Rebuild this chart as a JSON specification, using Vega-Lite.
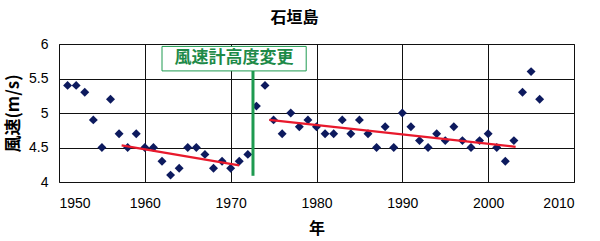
{
  "$schema": "https://vega.github.io/schema/vega-lite/v6.json",
  "autosize": "none",
  "width": 515,
  "height": 138,
  "padding": {"left": 59, "top": 44, "right": 26, "bottom": 59},
  "background": "white",
  "title": {
    "text": "石垣島",
    "font": "Noto Sans CJK JP",
    "fontSize": 16,
    "fontWeight": "bold",
    "color": "#000000",
    "anchor": "middle",
    "dx": -22,
    "offset": 3,
    "baseline": "middle"
  },
  "config": {
    "view": {"stroke": "#444444", "strokeWidth": 1},
    "axis": {
      "labelFont": "Liberation Sans",
      "labelFontSize": 14,
      "labelColor": "#000000",
      "labelOverlap": false,
      "gridColor": "#111111",
      "gridOpacity": 1,
      "gridWidth": 1,
      "domain": false,
      "ticks": false,
      "titleColor": "#000000"
    }
  },
  "datasets": {
    "points": [
      {"year": 1951, "speed": 5.4}, {"year": 1952, "speed": 5.4}, {"year": 1953, "speed": 5.3},
      {"year": 1954, "speed": 4.9}, {"year": 1955, "speed": 4.5}, {"year": 1956, "speed": 5.2},
      {"year": 1957, "speed": 4.7}, {"year": 1958, "speed": 4.5}, {"year": 1959, "speed": 4.7},
      {"year": 1960, "speed": 4.5}, {"year": 1961, "speed": 4.5}, {"year": 1962, "speed": 4.3},
      {"year": 1963, "speed": 4.1}, {"year": 1964, "speed": 4.2}, {"year": 1965, "speed": 4.5},
      {"year": 1966, "speed": 4.5}, {"year": 1967, "speed": 4.4}, {"year": 1968, "speed": 4.2},
      {"year": 1969, "speed": 4.3}, {"year": 1970, "speed": 4.2}, {"year": 1971, "speed": 4.3},
      {"year": 1972, "speed": 4.4}, {"year": 1973, "speed": 5.1}, {"year": 1974, "speed": 5.4},
      {"year": 1975, "speed": 4.9}, {"year": 1976, "speed": 4.7}, {"year": 1977, "speed": 5.0},
      {"year": 1978, "speed": 4.8}, {"year": 1979, "speed": 4.9}, {"year": 1980, "speed": 4.8},
      {"year": 1981, "speed": 4.7}, {"year": 1982, "speed": 4.7}, {"year": 1983, "speed": 4.9},
      {"year": 1984, "speed": 4.7}, {"year": 1985, "speed": 4.9}, {"year": 1986, "speed": 4.7},
      {"year": 1987, "speed": 4.5}, {"year": 1988, "speed": 4.8}, {"year": 1989, "speed": 4.5},
      {"year": 1990, "speed": 5.0}, {"year": 1991, "speed": 4.8}, {"year": 1992, "speed": 4.6},
      {"year": 1993, "speed": 4.5}, {"year": 1994, "speed": 4.7}, {"year": 1995, "speed": 4.6},
      {"year": 1996, "speed": 4.8}, {"year": 1997, "speed": 4.6}, {"year": 1998, "speed": 4.5},
      {"year": 1999, "speed": 4.6}, {"year": 2000, "speed": 4.7}, {"year": 2001, "speed": 4.5},
      {"year": 2002, "speed": 4.3}, {"year": 2003, "speed": 4.6}, {"year": 2004, "speed": 5.3},
      {"year": 2005, "speed": 5.6}, {"year": 2006, "speed": 5.2}
    ],
    "trend": [
      {"period": "before", "year": 1957.3, "speed": 4.53},
      {"period": "before", "year": 1971, "speed": 4.24},
      {"period": "after", "year": 1974.5, "speed": 4.9},
      {"period": "after", "year": 2003.2, "speed": 4.51}
    ],
    "change": [
      {"label": "風速計高度変更", "x1": 1962.0, "x2": 1978.8, "ytop": 5.965, "ybox": 5.61, "xline": 1972.6, "ylow": 4.09, "xtext": 1970.4, "ytext": 5.79}
    ]
  },
  "layer": [
    {
      "data": {"name": "points"},
      "mark": {"type": "point", "shape": "diamond", "filled": true, "size": 80, "color": "#0d1a5e", "opacity": 1},
      "encoding": {
        "x": {
          "field": "year", "type": "quantitative",
          "scale": {"domain": [1950, 2010], "nice": false, "zero": false},
          "axis": {
            "values": [1950, 1960, 1970, 1980, 1990, 2000, 2010],
            "tickCount": 10,
            "format": "d",
            "labelPadding": 14,
            "title": "年",
            "titleFont": "Noto Sans CJK JP",
            "titleFontSize": 16,
            "titleFontWeight": "bold",
            "titlePadding": 10
          }
        },
        "y": {
          "field": "speed", "type": "quantitative",
          "scale": {"domain": [4, 6], "nice": false, "zero": false},
          "axis": {
            "values": [4, 4.5, 5, 5.5, 6],
            "tickCount": 10,
            "format": "~g",
            "labelPadding": 11,
            "title": "風速(m/s)",
            "titleFont": "Noto Sans CJK JP",
            "titleFontSize": 17,
            "titleFontWeight": "bold",
            "titleX": -46,
            "titleBaseline": "middle"
          }
        }
      }
    },
    {
      "data": {"name": "trend"},
      "mark": {"type": "line", "color": "#e8192c", "strokeWidth": 2.2},
      "encoding": {
        "x": {"field": "year", "type": "quantitative"},
        "y": {"field": "speed", "type": "quantitative"},
        "detail": {"field": "period"}
      }
    },
    {
      "data": {"name": "change"},
      "mark": {"type": "rule", "color": "#1e9a50", "strokeWidth": 3},
      "encoding": {
        "x": {"field": "xline", "type": "quantitative"},
        "y": {"field": "ylow", "type": "quantitative"},
        "y2": {"field": "ybox"}
      }
    },
    {
      "data": {"name": "change"},
      "mark": {"type": "rect", "fill": "white", "stroke": "#1e9a50", "strokeWidth": 1},
      "encoding": {
        "x": {"field": "x1", "type": "quantitative"},
        "x2": {"field": "x2"},
        "y": {"field": "ytop", "type": "quantitative"},
        "y2": {"field": "ybox"}
      }
    },
    {
      "data": {"name": "change"},
      "mark": {"type": "text", "font": "Noto Sans CJK JP", "fontSize": 17, "fontWeight": "bold", "color": "#1e8a48", "baseline": "middle", "align": "center"},
      "encoding": {
        "x": {"field": "xtext", "type": "quantitative"},
        "y": {"field": "ytext", "type": "quantitative"},
        "text": {"field": "label"}
      }
    }
  ]
}
